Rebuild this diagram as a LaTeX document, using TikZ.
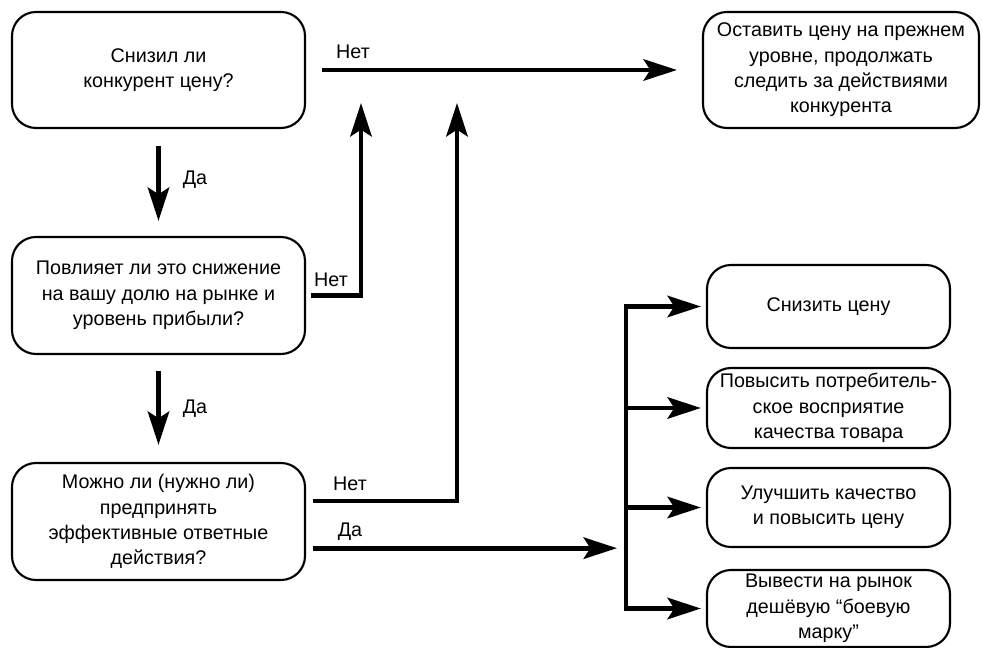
\documentclass[tikz,border=0pt]{standalone}
\usepackage{fontspec}
\setmainfont{Liberation Sans}
\usetikzlibrary{arrows.meta}

\begin{document}
\begin{tikzpicture}[x=0.75pt,y=0.75pt,yscale=-1,xscale=1,
    box/.style={draw, line width=1.6pt, rounded corners=18pt, align=center, inner sep=0.75pt, font=\fontsize{14.8}{19}\selectfont},
    arr/.style={line width=3.6pt, -{Stealth[length=25pt,width=16pt,inset=5pt]}},
    lbl/.style={inner sep=0.75pt, font=\fontsize{14.8}{19}\selectfont}]
            \useasboundingbox (0,0) rectangle (982,648);
            %Rounded Rect: questions
            \node [box, minimum width=219.75pt, minimum height=87pt] (cut) at (158.5,70) {Снизил ли\\конкурент цену?};
            \node [box, minimum width=219.75pt, minimum height=87.75pt] (share) at (158.5,295.5) {Повлияет ли это снижение\\на вашу долю на рынке и\\уровень прибыли?};
            \node [box, minimum width=219.75pt, minimum height=87.75pt] (react) at (158.5,521.5) {Можно ли (нужно ли)\\предпринять\\эффективные ответные\\действия?};
            %Rounded Rect: outcomes
            \node [box, minimum width=207pt, minimum height=87pt] (keep) at (841,70) {Оставить цену на прежнем\\уровне, продолжать\\следить за действиями\\конкурента};
            \node [box, minimum width=182.25pt, minimum height=62.25pt] (lower) at (828.5,306.5) {Снизить цену};
            \node [box, minimum width=182.25pt, minimum height=60pt] (image) at (828.5,408) {Повысить потребитель-\\ское восприятие\\качества товара};
            \node [box, minimum width=182.25pt, minimum height=59.25pt] (raise) at (828.5,507.5) {Улучшить качество\\и повысить цену};
            \node [box, minimum width=182.25pt, minimum height=57.75pt] (brand) at (828.5,608.5) {Вывести на рынок\\дешёвую “боевую\\марку”};

            %Points
            \coordinate (up2) at (361,103);
            \coordinate (up3) at (457,103);
            \coordinate (noline) at (322,70);
            \coordinate (bus) at (626,0);
            \coordinate (yesline) at ([xshift=5pt,yshift=20pt]react.east);

            %Straight Lines
            \draw [arr, shorten <=12.75pt, shorten >=11.25pt] (cut) -- (share);
            \draw [arr, shorten <=12pt, shorten >=12.75pt] (share) -- (react);
            \draw [arr] ([xshift=4pt]share.east) -| (up2);
            \draw [arr] ([xshift=5pt,yshift=-15.4pt]react.east) -| (up3);
            \draw [arr, shorten >=18.75pt] (noline) -- (keep);
            \draw [arr, shorten >=6.75pt] (yesline) -- (yesline -| bus);
            %Fork
            \draw [arr, shorten >=3.75pt] (bus |- brand) |- (lower);
            \draw [arr, shorten >=3.75pt] (bus |- lower) |- (brand);
            \draw [arr, shorten >=3.75pt] (bus |- image) -- (image);
            \draw [arr, shorten >=3.75pt] (bus |- raise) -- (raise);

            % Text Node
            \node [lbl] (no1) at (353,52) {Нет};
            % Text Node
            \node [lbl] (yes1) at (195,180) {Да};
            % Text Node
            \node [lbl] (no2) at (331,280) {Нет};
            % Text Node
            \node [lbl] (yes2) at (195,409) {Да};
            % Text Node
            \node [lbl] (no3) at (350,484) {Нет};
            % Text Node
            \node [lbl] (yes3) at (350,532) {Да};
\end{tikzpicture}
\end{document}
